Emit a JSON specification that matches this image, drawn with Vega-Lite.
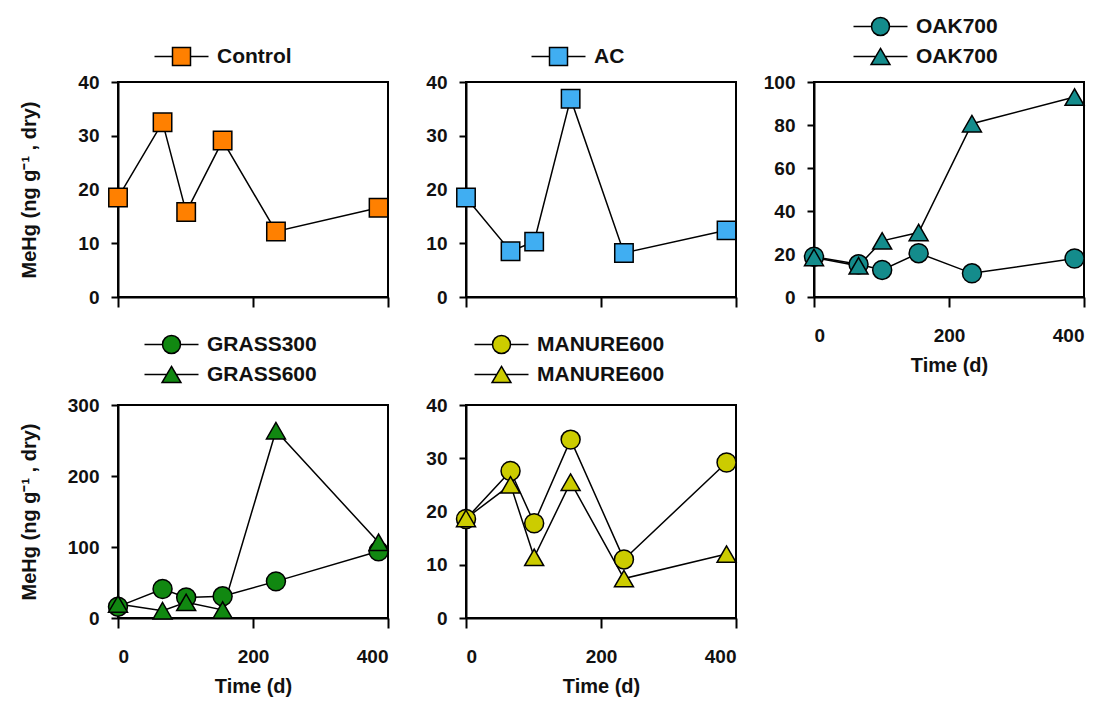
{
  "$schema": "https://vega.github.io/schema/vega-lite/v6.json",
  "background": "white",
  "padding": {"left": 18, "top": 15, "right": 5, "bottom": 5},
  "config": {
    "font": "Liberation Sans",
    "view": {"stroke": "black", "strokeWidth": 2},
    "axis": {"domainColor": "black", "domainWidth": 2, "tickColor": "black", "tickWidth": 2, "labelFont": "Liberation Sans", "labelFontWeight": "bold", "labelFontSize": 19, "labelColor": "#111", "titleFont": "Liberation Sans", "titleFontWeight": "bold", "titleFontSize": 20, "titleColor": "#111", "grid": false},
    "legend": {"labelFont": "Liberation Sans", "labelFontWeight": "bold", "labelFontSize": 21, "labelColor": "#111", "orient": "none", "symbolSize": 324, "labelOffset": 25, "rowPadding": 6, "padding": 0, "title": null, "symbolOpacity": 1}
  },
  "resolve": {"scale": {"shape": "independent", "x": "independent", "y": "independent"}, "legend": {"shape": "independent"}},
  "datasets": {
    "control": [
      {"series": "Control", "t": 0, "v": 18.5}, {"series": "Control", "t": 66, "v": 32.5}, {"series": "Control", "t": 101, "v": 15.8},
      {"series": "Control", "t": 155, "v": 29.1}, {"series": "Control", "t": 234, "v": 12.2}, {"series": "Control", "t": 386, "v": 16.6}
    ],
    "ac": [
      {"series": "AC", "t": 0, "v": 18.5}, {"series": "AC", "t": 66, "v": 8.5}, {"series": "AC", "t": 101, "v": 10.3},
      {"series": "AC", "t": 155, "v": 36.9}, {"series": "AC", "t": 234, "v": 8.2}, {"series": "AC", "t": 386, "v": 12.4}
    ],
    "oak": [
      {"series": "OAK700_1", "t": 0, "v": 18.7}, {"series": "OAK700_1", "t": 66, "v": 15.2}, {"series": "OAK700_1", "t": 101, "v": 12.6},
      {"series": "OAK700_1", "t": 155, "v": 20.4}, {"series": "OAK700_1", "t": 234, "v": 11.0}, {"series": "OAK700_1", "t": 386, "v": 17.9},
      {"series": "OAK700_2", "t": 0, "v": 18.4}, {"series": "OAK700_2", "t": 66, "v": 14.5}, {"series": "OAK700_2", "t": 101, "v": 26.1},
      {"series": "OAK700_2", "t": 155, "v": 30.0}, {"series": "OAK700_2", "t": 234, "v": 80.6}, {"series": "OAK700_2", "t": 386, "v": 93.0}
    ],
    "grass": [
      {"series": "GRASS300", "t": 0, "v": 16}, {"series": "GRASS300", "t": 66, "v": 40.8}, {"series": "GRASS300", "t": 101, "v": 29},
      {"series": "GRASS300", "t": 155, "v": 30.5}, {"series": "GRASS300", "t": 234, "v": 51.6}, {"series": "GRASS300", "t": 386, "v": 93.9},
      {"series": "GRASS600", "t": 0, "v": 19.7}, {"series": "GRASS600", "t": 66, "v": 10.3}, {"series": "GRASS600", "t": 101, "v": 22},
      {"series": "GRASS600", "t": 155, "v": 11.3}, {"series": "GRASS600", "t": 234, "v": 263.8}, {"series": "GRASS600", "t": 386, "v": 106.6}
    ],
    "manure": [
      {"series": "MANURE600_1", "t": 0, "v": 18.6}, {"series": "MANURE600_1", "t": 66, "v": 27.6}, {"series": "MANURE600_1", "t": 101, "v": 17.8},
      {"series": "MANURE600_1", "t": 155, "v": 33.5}, {"series": "MANURE600_1", "t": 234, "v": 11.0}, {"series": "MANURE600_1", "t": 386, "v": 29.2},
      {"series": "MANURE600_2", "t": 0, "v": 18.7}, {"series": "MANURE600_2", "t": 66, "v": 25.0}, {"series": "MANURE600_2", "t": 101, "v": 11.4},
      {"series": "MANURE600_2", "t": 155, "v": 25.5}, {"series": "MANURE600_2", "t": 234, "v": 7.4}, {"series": "MANURE600_2", "t": 386, "v": 12.0}
    ]
  },
  "columns": 3,
  "bounds": "flush",
  "spacing": {"column": 78, "row": 108},
  "concat": [
    {
      "width": 270, "height": 215,
      "data": {"name": "control"},
      "resolve": {"scale": {"shape": "independent"}},
      "layer": [
        {"mark": {"type": "line", "color": "black", "strokeWidth": 1.5},
         "encoding": {
           "x": {"field": "t", "type": "quantitative", "scale": {"domain": [0, 400]}, "axis": {"values": [0, 200, 400], "labels": false, "title": null, "tickSize": 10}},
           "y": {"field": "v", "type": "quantitative", "scale": {"domain": [0, 40]}, "axis": {"values": [0, 10, 20, 30, 40], "tickSize": 7, "labelPadding": 12, "title": "MeHg (ng g⁻¹ , dry)", "titlePadding": 38}},
           "detail": {"field": "series"}}},
        {"mark": {"type": "point", "filled": true, "fill": "#FF8000", "stroke": "black", "strokeWidth": 1.5, "opacity": 1, "size": 340},
         "encoding": {
           "x": {"field": "t", "type": "quantitative"},
           "y": {"field": "v", "type": "quantitative"},
           "shape": {"field": "series", "type": "nominal", "scale": {"domain": ["Control"], "range": ["square"]}, "legend": null}}},
        {"mark": {"type": "point", "filled": true, "fill": "#FF8000", "stroke": "black", "strokeWidth": 1.5, "opacity": 0},
         "encoding": {
           "x": {"field": "t", "type": "quantitative"},
           "y": {"field": "v", "type": "quantitative"},
           "shape": {"field": "series", "type": "nominal", "scale": {"domain": ["Control"], "range": ["M-3,0H-1M1,0H3M-1,-1H1V1H-1Z"]},
             "legend": {"legendX": 53, "legendY": -36, "encode": {"symbols": {"fill": {"value": "#FF8000"}, "stroke": {"value": "black"}, "strokeWidth": {"value": 1.5}, "strokeOpacity": {"value": 1}}}}}}}
      ]
    },
    {
      "width": 270, "height": 215,
      "data": {"name": "ac"},
      "resolve": {"scale": {"shape": "independent"}},
      "layer": [
        {"mark": {"type": "line", "color": "black", "strokeWidth": 1.5},
         "encoding": {
           "x": {"field": "t", "type": "quantitative", "scale": {"domain": [0, 400]}, "axis": {"values": [0, 200, 400], "labels": false, "title": null, "tickSize": 10}},
           "y": {"field": "v", "type": "quantitative", "scale": {"domain": [0, 40]}, "axis": {"values": [0, 10, 20, 30, 40], "tickSize": 7, "labelPadding": 12, "title": null}},
           "detail": {"field": "series"}}},
        {"mark": {"type": "point", "filled": true, "fill": "#40AEF2", "stroke": "black", "strokeWidth": 1.5, "opacity": 1, "size": 340},
         "encoding": {
           "x": {"field": "t", "type": "quantitative"},
           "y": {"field": "v", "type": "quantitative"},
           "shape": {"field": "series", "type": "nominal", "scale": {"domain": ["AC"], "range": ["square"]}, "legend": null}}},
        {"mark": {"type": "point", "filled": true, "fill": "#40AEF2", "stroke": "black", "strokeWidth": 1.5, "opacity": 0},
         "encoding": {
           "x": {"field": "t", "type": "quantitative"},
           "y": {"field": "v", "type": "quantitative"},
           "shape": {"field": "series", "type": "nominal", "scale": {"domain": ["AC"], "range": ["M-3,0H-1M1,0H3M-1,-1H1V1H-1Z"]},
             "legend": {"legendX": 82, "legendY": -36, "encode": {"symbols": {"fill": {"value": "#40AEF2"}, "stroke": {"value": "black"}, "strokeWidth": {"value": 1.5}, "strokeOpacity": {"value": 1}}}}}}}
      ]
    },
    {
      "width": 270, "height": 215,
      "data": {"name": "oak"},
      "resolve": {"scale": {"shape": "independent"}},
      "layer": [
        {"mark": {"type": "line", "color": "black", "strokeWidth": 1.5},
         "encoding": {
           "x": {"field": "t", "type": "quantitative", "scale": {"domain": [0, 400]}, "axis": {"values": [0, 200, 400], "title": "Time (d)", "tickSize": 10, "labelPadding": 19, "titlePadding": 10}},
           "y": {"field": "v", "type": "quantitative", "scale": {"domain": [0, 100]}, "axis": {"values": [0, 20, 40, 60, 80, 100], "tickSize": 7, "labelPadding": 12, "title": null}},
           "detail": {"field": "series"}}},
        {"mark": {"type": "point", "filled": true, "fill": "#148C8C", "stroke": "black", "strokeWidth": 1.5, "opacity": 1, "size": 360},
         "encoding": {
           "x": {"field": "t", "type": "quantitative"},
           "y": {"field": "v", "type": "quantitative"},
           "shape": {"field": "series", "type": "nominal", "scale": {"domain": ["OAK700_1", "OAK700_2"], "range": ["circle", "triangle-up"]}, "legend": null}}},
        {"mark": {"type": "point", "filled": true, "fill": "#148C8C", "stroke": "black", "strokeWidth": 1.5, "opacity": 0},
         "encoding": {
           "x": {"field": "t", "type": "quantitative"},
           "y": {"field": "v", "type": "quantitative"},
           "shape": {"field": "series", "type": "nominal", "scale": {"domain": ["OAK700_1", "OAK700_2"], "range": ["M-3,0H-1M1,0H3M-1,0A1,1,0,1,0,1,0A1,1,0,1,0,-1,0Z", "M-3,0H-0.525M0.525,0H3M0,-0.9L1.05,0.9H-1.05Z"]},
             "legend": {"legendX": 56, "legendY": -66, "labelExpr": "split(datum.label, '_')[0]", "encode": {"symbols": {"fill": {"value": "#148C8C"}, "stroke": {"value": "black"}, "strokeWidth": {"value": 1.5}, "strokeOpacity": {"value": 1}}}}}}}
      ]
    },
    {
      "width": 270, "height": 213,
      "data": {"name": "grass"},
      "resolve": {"scale": {"shape": "independent"}},
      "layer": [
        {"mark": {"type": "line", "color": "black", "strokeWidth": 1.5},
         "encoding": {
           "x": {"field": "t", "type": "quantitative", "scale": {"domain": [0, 400]}, "axis": {"values": [0, 200, 400], "title": "Time (d)", "tickSize": 10, "labelPadding": 19, "titlePadding": 10}},
           "y": {"field": "v", "type": "quantitative", "scale": {"domain": [0, 300]}, "axis": {"values": [0, 100, 200, 300], "tickSize": 7, "labelPadding": 12, "title": "MeHg (ng g⁻¹ , dry)", "titlePadding": 28}},
           "detail": {"field": "series"}}},
        {"mark": {"type": "point", "filled": true, "fill": "#118811", "stroke": "black", "strokeWidth": 1.5, "opacity": 1, "size": 360},
         "encoding": {
           "x": {"field": "t", "type": "quantitative"},
           "y": {"field": "v", "type": "quantitative"},
           "shape": {"field": "series", "type": "nominal", "scale": {"domain": ["GRASS300", "GRASS600"], "range": ["circle", "triangle-up"]}, "legend": null}}},
        {"mark": {"type": "point", "filled": true, "fill": "#118811", "stroke": "black", "strokeWidth": 1.5, "opacity": 0},
         "encoding": {
           "x": {"field": "t", "type": "quantitative"},
           "y": {"field": "v", "type": "quantitative"},
           "shape": {"field": "series", "type": "nominal", "scale": {"domain": ["GRASS300", "GRASS600"], "range": ["M-3,0H-1M1,0H3M-1,0A1,1,0,1,0,1,0A1,1,0,1,0,-1,0Z", "M-3,0H-0.525M0.525,0H3M0,-0.9L1.05,0.9H-1.05Z"]},
             "legend": {"legendX": 43, "legendY": -71, "encode": {"symbols": {"fill": {"value": "#118811"}, "stroke": {"value": "black"}, "strokeWidth": {"value": 1.5}, "strokeOpacity": {"value": 1}}}}}}}
      ]
    },
    {
      "width": 270, "height": 213,
      "data": {"name": "manure"},
      "resolve": {"scale": {"shape": "independent"}},
      "layer": [
        {"mark": {"type": "line", "color": "black", "strokeWidth": 1.5},
         "encoding": {
           "x": {"field": "t", "type": "quantitative", "scale": {"domain": [0, 400]}, "axis": {"values": [0, 200, 400], "title": "Time (d)", "tickSize": 10, "labelPadding": 19, "titlePadding": 10}},
           "y": {"field": "v", "type": "quantitative", "scale": {"domain": [0, 40]}, "axis": {"values": [0, 10, 20, 30, 40], "tickSize": 7, "labelPadding": 12, "title": null}},
           "detail": {"field": "series"}}},
        {"mark": {"type": "point", "filled": true, "fill": "#CCCC00", "stroke": "black", "strokeWidth": 1.5, "opacity": 1, "size": 360},
         "encoding": {
           "x": {"field": "t", "type": "quantitative"},
           "y": {"field": "v", "type": "quantitative"},
           "shape": {"field": "series", "type": "nominal", "scale": {"domain": ["MANURE600_1", "MANURE600_2"], "range": ["circle", "triangle-up"]}, "legend": null}}},
        {"mark": {"type": "point", "filled": true, "fill": "#CCCC00", "stroke": "black", "strokeWidth": 1.5, "opacity": 0},
         "encoding": {
           "x": {"field": "t", "type": "quantitative"},
           "y": {"field": "v", "type": "quantitative"},
           "shape": {"field": "series", "type": "nominal", "scale": {"domain": ["MANURE600_1", "MANURE600_2"], "range": ["M-3,0H-1M1,0H3M-1,0A1,1,0,1,0,1,0A1,1,0,1,0,-1,0Z", "M-3,0H-0.525M0.525,0H3M0,-0.9L1.05,0.9H-1.05Z"]},
             "legend": {"legendX": 25, "legendY": -71, "labelExpr": "split(datum.label, '_')[0]", "encode": {"symbols": {"fill": {"value": "#CCCC00"}, "stroke": {"value": "black"}, "strokeWidth": {"value": 1.5}, "strokeOpacity": {"value": 1}}}}}}}
      ]
    }
  ]
}
